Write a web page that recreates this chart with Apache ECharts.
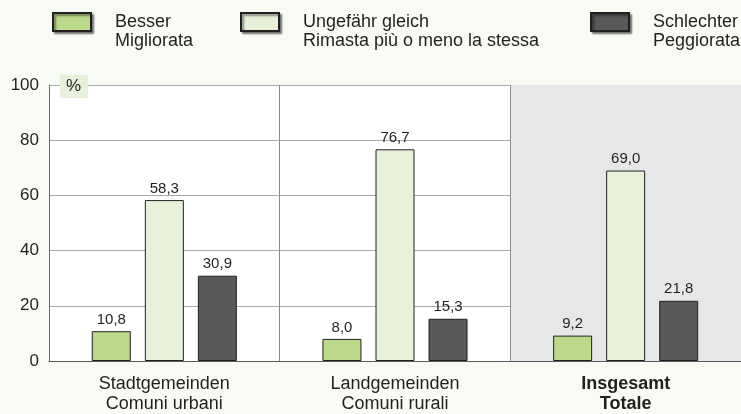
<!DOCTYPE html>
<html>
<head>
<meta charset="utf-8">
<script src="https://cdn.jsdelivr.net/npm/echarts@6/dist/echarts.min.js"></script>
<style>
  html, body { margin: 0; padding: 0; background: #f8faf4; }
  #chart { width: 741px; height: 414px; }
</style>
</head>
<body>
<div id="chart"></div>
<script>
// Kategorien / categorie
var categories = ['Stadtgemeinden\nComuni urbani', 'Landgemeinden\nComuni rurali', 'Insgesamt\nTotale'];
var seriesNames = ['Besser\nMigliorata', 'Ungefähr gleich\nRimasta più o meno la stessa', 'Schlechter\nPeggiorata'];
var besser = [10.8, 8.0, 9.2];
var gleich = [58.3, 76.7, 69.0];
var schlechter = [30.9, 15.3, 21.8];
var yTicks = [0, 20, 40, 60, 80, 100];
var colors = ['#bad98b', '#e7f1d9', '#58595b'];

var chart = echarts.init(document.getElementById('chart'));

function makeSeries(name, data, color) {
    return {
        name: name,
        type: 'bar',
        data: data,
        barWidth: 39,
        barGap: '36%',
        itemStyle: { color: color, borderColor: '#231f20', borderWidth: 1 },
        label: {
            show: true,
            position: 'top',
            distance: 4,
            fontFamily: 'Liberation Sans',
            fontSize: 15,
            color: '#231f20',
            formatter: function (p) { return p.value.toFixed(1).replace('.', ','); }
        }
    };
}

// blank first line so the icon sits beside the first text line
function legendAt(x, name) {
    return {
        left: x, top: -6.5,
        padding: 0,
        data: [name],
        icon: 'rect',
        itemWidth: 38, itemHeight: 18,
        itemGap: 0,
        selectedMode: false,
        formatter: function (n) { return '\n' + n; },
        itemStyle: { shadowColor: 'rgba(0,0,0,0.45)', shadowBlur: 2, shadowOffsetX: 2, shadowOffsetY: 2 },
        textStyle: { fontFamily: 'Liberation Sans', fontSize: 18, color: '#231f20', lineHeight: 19, padding: [0, 0, 0, 19] }
    };
}

var option = {
    backgroundColor: '#f8faf4',
    animation: false,
    legend: [legendAt(52, seriesNames[0]), legendAt(240, seriesNames[1]), legendAt(590, seriesNames[2])],
    grid: { left: 49, right: 0, top: 85, bottom: 51, backgroundColor: '#ffffff', show: true, borderWidth: 0 },
    xAxis: {
        type: 'category',
        data: categories,
        axisLine: { lineStyle: { color: '#58595b', width: 1 } },
        axisTick: { show: false },
        splitLine: { show: true, interval: 0, lineStyle: { color: '#8a8b8d' } },
        splitArea: { show: true, interval: 0, areaStyle: { color: ['rgba(0,0,0,0)', 'rgba(0,0,0,0)', '#e6e7e9'] } },
        axisLabel: {
            interval: 0,
            margin: 13,
            fontFamily: 'Liberation Sans',
            fontSize: 18,
            lineHeight: 20,
            color: '#231f20',
            formatter: function (v, i) {
                return i === 2 ? '{b|' + v.replace('\n', '}\n{b|') + '}' : v;
            },
            rich: { b: { fontWeight: 'bold', fontFamily: 'Liberation Sans', fontSize: 18, lineHeight: 20, color: '#231f20' } }
        }
    },
    yAxis: {
        type: 'value',
        min: yTicks[0],
        max: yTicks[yTicks.length - 1],
        interval: 20,
        axisLine: { show: true, lineStyle: { color: '#6d6e71' } },
        axisTick: { show: false },
        axisLabel: { fontFamily: 'Liberation Sans', fontSize: 17, color: '#231f20', margin: 10 },
        splitLine: { lineStyle: { color: '#a7a9ac' } }
    },
    graphic: [
        { type: 'rect', left: 60, top: 75, shape: { width: 28, height: 23 }, style: { fill: '#e7f1d9' }, z: 10 },
        { type: 'text', left: 66, top: 78, style: { text: '%', font: '17px Liberation Sans', fill: '#231f20' }, z: 11 }
    ],
    series: [
        makeSeries(seriesNames[0], besser, colors[0]),
        makeSeries(seriesNames[1], gleich, colors[1]),
        makeSeries(seriesNames[2], schlechter, colors[2])
    ]
};

chart.setOption(option);
</script>
</body>
</html>
